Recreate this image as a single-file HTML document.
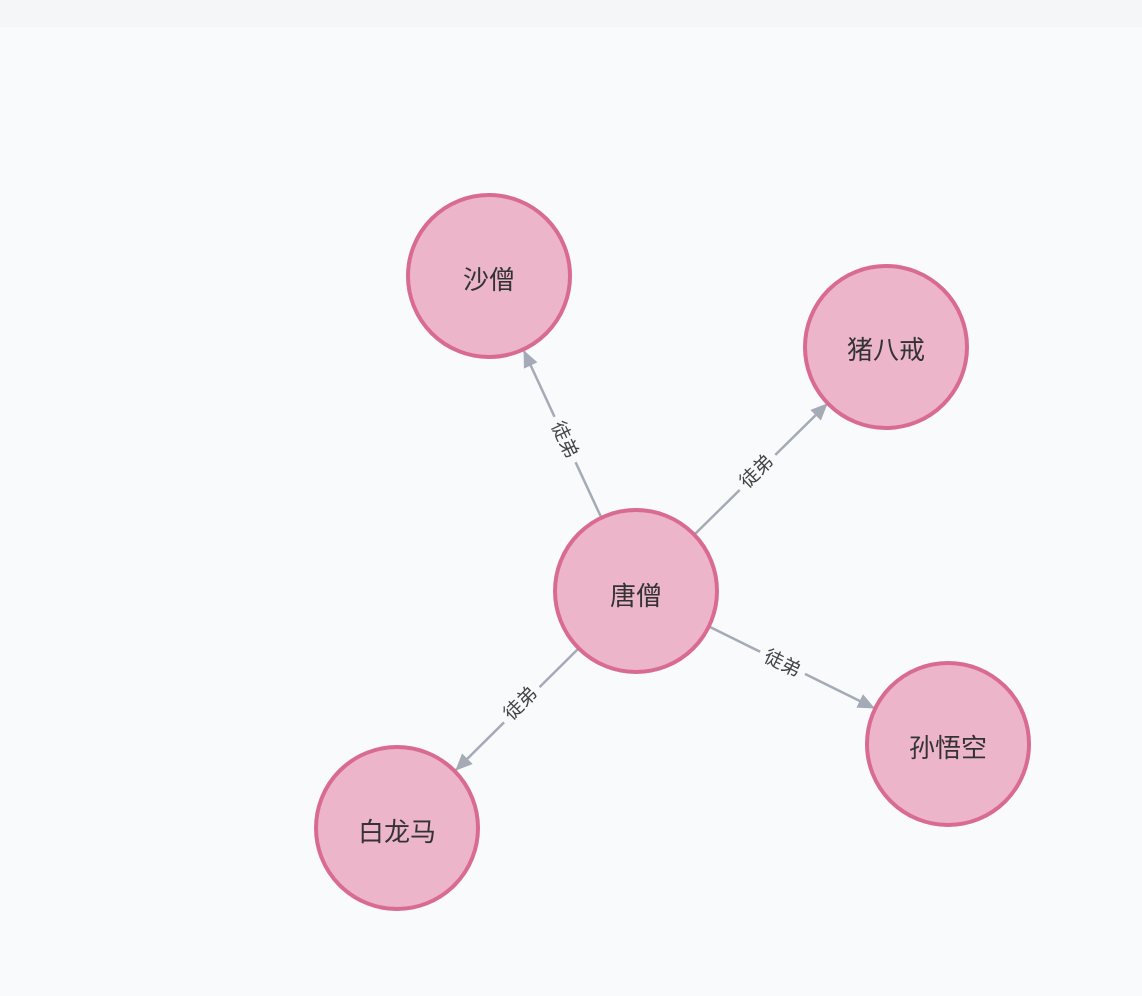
<!DOCTYPE html>
<html><head><meta charset="utf-8"><style>
html,body{margin:0;padding:0;background:#f9fafc;}
svg{display:block;}
text{font-family:"Liberation Sans","Noto Sans CJK SC",sans-serif;}
</style></head><body>
<svg width="1142" height="996" xmlns="http://www.w3.org/2000/svg">
<rect x="0" y="0" width="1142" height="996" fill="#f9fafc"/>
<rect x="0" y="0" width="1142" height="27" fill="#f5f6f8"/>
<defs>
<marker id="a" markerWidth="17" markerHeight="15" refX="16" refY="7.5" orient="auto" markerUnits="userSpaceOnUse">
<path d="M0,0 L17,7.5 L0,15 Z" fill="#a5abb6"/>
</marker>
</defs>
<g stroke="#a5abb6" stroke-width="2.5" fill="none">
<line x1="601" y1="517" x2="524" y2="351" marker-end="url(#a)"/>
<line x1="695" y1="534" x2="827" y2="404" marker-end="url(#a)"/>
<line x1="710" y1="627" x2="874" y2="708" marker-end="url(#a)"/>
<line x1="578" y1="649" x2="456" y2="770" marker-end="url(#a)"/>
</g>
<g font-size="19" fill="#444" text-anchor="middle" dominant-baseline="central">
<g transform="translate(564,440) rotate(65)"><rect x="-25" y="-12" width="50" height="24" fill="#f9fafc"/><text x="0" y="0">徒弟</text></g>
<g transform="translate(757,472) rotate(-44.3)"><rect x="-25" y="-12" width="50" height="24" fill="#f9fafc"/><text x="0" y="0">徒弟</text></g>
<g transform="translate(782,664) rotate(26)"><rect x="-25" y="-12" width="50" height="24" fill="#f9fafc"/><text x="0" y="0">徒弟</text></g>
<g transform="translate(521,704) rotate(-44.8)"><rect x="-25" y="-12" width="50" height="24" fill="#f9fafc"/><text x="0" y="0">徒弟</text></g>
</g>
<g fill="#ecb5c9" stroke="#d96b93" stroke-width="4">
<circle cx="489" cy="276" r="81"/>
<circle cx="886" cy="347" r="81"/>
<circle cx="636" cy="591" r="81"/>
<circle cx="948" cy="744" r="81"/>
<circle cx="397" cy="828" r="81"/>
</g>
<g font-size="26" fill="#333" text-anchor="middle" dominant-baseline="central">
<text x="489" y="280">沙僧</text>
<text x="886" y="350">猪八戒</text>
<text x="636" y="596">唐僧</text>
<text x="948" y="748">孙悟空</text>
<text x="397" y="832">白龙马</text>
</g>
</svg>
</body></html>
